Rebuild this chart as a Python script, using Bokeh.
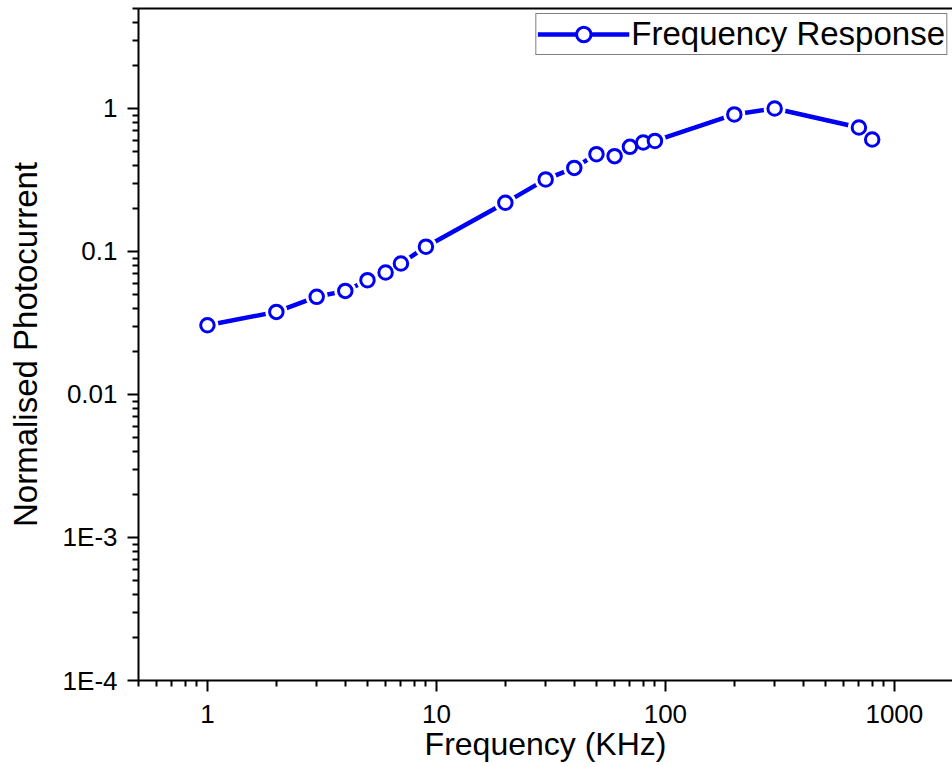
from bokeh.plotting import figure
from bokeh.models import (LogAxis, FixedTicker, CustomJSTickFormatter, Legend, LegendItem,
                          ColumnDataSource, Range1d)
from bokeh.embed import file_html
from bokeh.resources import INLINE

# Measured frequency response (frequency in kHz, photocurrent normalised to its peak)
freq_khz = [1, 2, 3, 4, 5, 6, 7, 9, 20, 30, 40, 50, 60, 70, 80, 90, 200, 300, 700, 800]
norm_photocurrent = [0.0305, 0.0378, 0.0482, 0.053, 0.063, 0.0713, 0.0824, 0.108,
                     0.219, 0.319, 0.384, 0.479, 0.464, 0.539, 0.578, 0.593,
                     0.908, 1.0, 0.736, 0.607]

x_major = [1, 10, 100, 1000]
x_labels = ["1", "10", "100", "1000"]
y_major = [1e-4, 1e-3, 1e-2, 0.1, 1]
y_labels = ["1E-4", "1E-3", "0.01", "0.1", "1"]

FONT = "Liberation Sans"
BLUE = "#0000f5"

src = ColumnDataSource(data=dict(f=freq_khz, r=norm_photocurrent))

p = figure(width=952, height=767, x_axis_type="log", y_axis_type="log",
           x_range=Range1d(0.5, 1794), y_range=Range1d(1e-4, 5),
           output_backend="svg", toolbar_location=None,
           min_border_left=138, min_border_right=0, min_border_top=8, min_border_bottom=87)
p.outline_line_color = None
p.background_fill_color = "white"
p.border_fill_color = "white"
p.xgrid.visible = False
p.ygrid.visible = False


def minor_ticks(lo_exp, hi_exp):
    return [m * 10.0 ** e for e in range(lo_exp, hi_exp + 1) for m in range(2, 10)]


def label_formatter(tick_vals, tick_labels):
    return CustomJSTickFormatter(args=dict(tick_vals=tick_vals, tick_labels=tick_labels), code="""
        let best = 0, bd = Infinity;
        for (let i = 0; i < tick_vals.length; i++) {
            const d = Math.abs(Math.log10(tick) - Math.log10(tick_vals[i]));
            if (d < bd) { bd = d; best = i; }
        }
        return tick_labels[best];
    """)


def style_axis(ax):
    ax.axis_line_width = 2
    ax.axis_line_color = "black"
    ax.major_tick_line_width = 2
    ax.minor_tick_line_width = 2
    ax.major_tick_in = 0
    ax.minor_tick_in = 0
    ax.major_tick_out = 11
    ax.minor_tick_out = 6
    ax.major_label_text_font = FONT
    ax.major_label_text_font_size = "26px"
    ax.major_label_text_color = "black"
    ax.axis_label_text_font = FONT
    ax.axis_label_text_font_style = "normal"
    ax.axis_label_text_color = "black"


xa = p.xaxis[0]
xa.ticker = FixedTicker(ticks=x_major, minor_ticks=minor_ticks(-1, 3))
xa.formatter = label_formatter(x_major, x_labels)
style_axis(xa)
xa.axis_label = "Frequency (KHz)"
xa.axis_label_text_font_size = "32px"
xa.major_label_standoff = 13
xa.axis_label_standoff = 0

ya = p.yaxis[0]
ya.ticker = FixedTicker(ticks=y_major, minor_ticks=minor_ticks(-4, 0))
ya.formatter = label_formatter(y_major, y_labels)
style_axis(ya)
ya.axis_label = "Normalised Photocurrent"
ya.axis_label_text_font_size = "33px"
ya.major_label_standoff = 10
ya.axis_label_standoff = 16

# plain line along the top edge of the frame
top = LogAxis(ticker=FixedTicker(ticks=[]), axis_line_width=2, axis_line_color="black",
              major_tick_out=0, minor_tick_out=0, major_label_text_font_size="0px")
p.add_layout(top, "above")

line = p.line("f", "r", source=src, line_color=BLUE, line_width=4.5)
halo = p.scatter("f", "r", source=src, size=22, marker="circle",
                 fill_color="white", line_color=None)
dots = p.scatter("f", "r", source=src, size=13.5, marker="circle",
                 fill_color="white", line_color=BLUE, line_width=3)

legend = Legend(items=[LegendItem(label="Frequency Response", renderers=[line, halo, dots])],
                location="top_right", margin=5, padding=1, spacing=0,
                glyph_width=92, glyph_height=36, label_standoff=2,
                label_text_font=FONT, label_text_font_size="33px",
                label_text_color="black", label_text_baseline="middle",
                border_line_color="black", border_line_width=1,
                background_fill_color="white", background_fill_alpha=1.0)
p.add_layout(legend)

open("out.html", "w").write(file_html(p, INLINE))
